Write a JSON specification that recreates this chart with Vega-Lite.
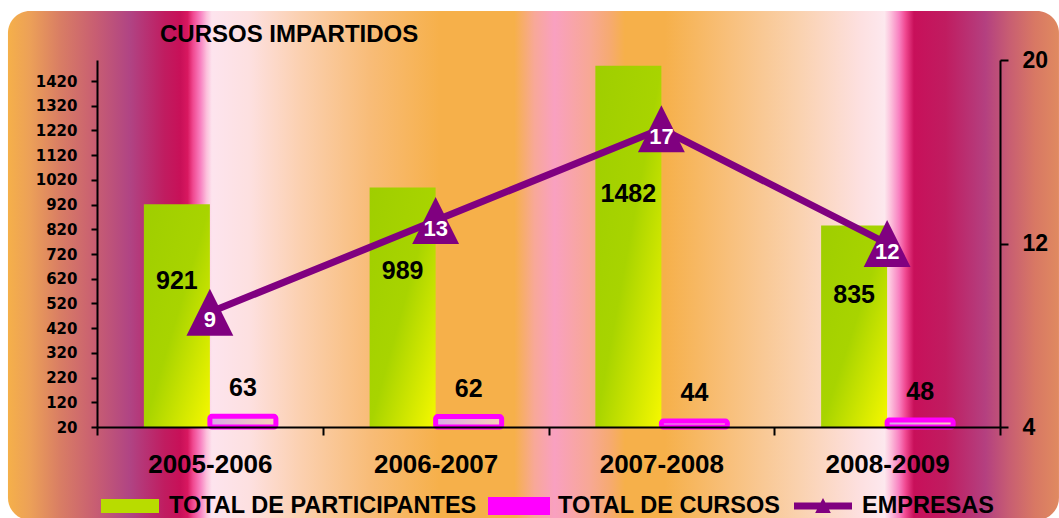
{
  "$schema": "https://vega.github.io/schema/vega-lite/v6.json",
  "width": 903,
  "height": 367,
  "autosize": {"type": "none"},
  "padding": {"left": 97, "top": 60, "right": 59, "bottom": 91},
  "background": "white",
  "title": {"text": "CURSOS IMPARTIDOS", "anchor": "start", "frame": "group", "dx": 63, "offset": -36, "font": "Liberation Sans", "fontSize": 24, "fontWeight": "bold", "color": "black"},
  "datasets": {
    "barras": [
      {"periodo": "2005-2006", "serie": "TOTAL DE PARTICIPANTES", "valor": 921},
      {"periodo": "2005-2006", "serie": "TOTAL DE CURSOS", "valor": 63},
      {"periodo": "2006-2007", "serie": "TOTAL DE PARTICIPANTES", "valor": 989},
      {"periodo": "2006-2007", "serie": "TOTAL DE CURSOS", "valor": 62},
      {"periodo": "2007-2008", "serie": "TOTAL DE PARTICIPANTES", "valor": 1482},
      {"periodo": "2007-2008", "serie": "TOTAL DE CURSOS", "valor": 44},
      {"periodo": "2008-2009", "serie": "TOTAL DE PARTICIPANTES", "valor": 835},
      {"periodo": "2008-2009", "serie": "TOTAL DE CURSOS", "valor": 48}
    ],
    "empresas": [
      {"periodo": "2005-2006", "empresas": 9},
      {"periodo": "2006-2007", "empresas": 13},
      {"periodo": "2007-2008", "empresas": 17},
      {"periodo": "2008-2009", "empresas": 12}
    ]
  },
  "layer": [
    {
      "data": {"values": [{"fondo": "fondo"}]},
      "mark": {
        "type": "rect",
        "cornerRadius": 22,
        "fill": {
          "gradient": "linear", "x1": 0, "y1": 0, "x2": 1, "y2": 0,
          "stops": [
            {"offset": 0.0, "color": "#f5b04a"},
            {"offset": 0.021, "color": "#eca058"},
            {"offset": 0.049, "color": "#d97e64"},
            {"offset": 0.083, "color": "#c85e72"},
            {"offset": 0.116, "color": "#b04484"},
            {"offset": 0.149, "color": "#c01c60"},
            {"offset": 0.164, "color": "#c81058"},
            {"offset": 0.171, "color": "#d81860"},
            {"offset": 0.176, "color": "#f04890"},
            {"offset": 0.183, "color": "#f880c0"},
            {"offset": 0.189, "color": "#fcc0dc"},
            {"offset": 0.194, "color": "#fde4ee"},
            {"offset": 0.230, "color": "#fde0e0"},
            {"offset": 0.278, "color": "#fbd0b0"},
            {"offset": 0.344, "color": "#f8bc78"},
            {"offset": 0.411, "color": "#f6b04a"},
            {"offset": 0.482, "color": "#f6b04a"},
            {"offset": 0.501, "color": "#f8a898"},
            {"offset": 0.520, "color": "#f9a0c0"},
            {"offset": 0.554, "color": "#f7a894"},
            {"offset": 0.573, "color": "#f6aa70"},
            {"offset": 0.587, "color": "#f6b04a"},
            {"offset": 0.625, "color": "#f6b04a"},
            {"offset": 0.687, "color": "#f8c07c"},
            {"offset": 0.754, "color": "#fad2b0"},
            {"offset": 0.811, "color": "#fde0e0"},
            {"offset": 0.834, "color": "#fde8ee"},
            {"offset": 0.840, "color": "#fcc0dc"},
            {"offset": 0.848, "color": "#f880c0"},
            {"offset": 0.854, "color": "#f04890"},
            {"offset": 0.862, "color": "#c8105a"},
            {"offset": 0.892, "color": "#c01c60"},
            {"offset": 0.930, "color": "#b44080"},
            {"offset": 0.953, "color": "#c85e72"},
            {"offset": 0.977, "color": "#d87864"},
            {"offset": 1.0, "color": "#e08a60"}
          ]
        }
      },
      "encoding": {
        "x": {"datum": -0.0986, "type": "quantitative", "scale": {"domain": [0, 1], "nice": false, "zero": false}, "axis": null},
        "x2": {"datum": 1.0653},
        "y": {"datum": -0.2534, "type": "quantitative", "scale": {"domain": [0, 1], "nice": false, "zero": false}, "axis": null},
        "y2": {"datum": 1.1335}
      }
    },
    {
      "data": {"name": "barras"},
      "encoding": {
        "x": {
          "field": "periodo", "type": "nominal",
          "scale": {"type": "band", "paddingInner": 0, "paddingOuter": 0},
          "axis": {
            "zindex": 1, "title": null, "labelAngle": 0, "labelFont": "Liberation Sans", "labelFontSize": 26, "labelFontWeight": "bold", "labelColor": "black",
            "labelPadding": 16, "tickBand": "extent", "tickSize": 8, "tickColor": "black", "tickWidth": 2,
            "domainColor": "black", "domainWidth": 2, "grid": false
          }
        },
        "xOffset": {"field": "serie", "type": "nominal", "scale": {"domain": ["TOTAL DE PARTICIPANTES", "TOTAL DE CURSOS"], "paddingInner": 0, "paddingOuter": 0.71}},
        "y": {
          "field": "valor", "type": "quantitative",
          "scale": {"domain": [20, 1505], "nice": false, "zero": false},
          "axis": {
            "zindex": 1, "orient": "left", "title": null, "format": "d", "values": [20, 120, 220, 320, 420, 520, 620, 720, 820, 920, 1020, 1120, 1220, 1320, 1420],
            "labelFont": "DejaVu Sans", "labelFontSize": 15, "labelFontWeight": "bold", "labelColor": "black", "labelPadding": 14,
            "tickSize": 6, "tickColor": "black", "tickWidth": 2, "domainColor": "black", "domainWidth": 2, "grid": false
          }
        }
      },
      "layer": [
        {
          "transform": [{"filter": "datum.serie === 'TOTAL DE PARTICIPANTES'"}],
          "mark": {
            "type": "bar",
            "fill": {
              "gradient": "linear", "x1": 0, "y1": 0, "x2": 1, "y2": 1,
              "stops": [
                {"offset": 0, "color": "#9fce00"},
                {"offset": 0.5, "color": "#a8d400"},
                {"offset": 1, "color": "#f6f800"}
              ]
            }
          },
          "encoding": {
            "y2": {"datum": 20},
            "color": {
              "field": "serie", "type": "nominal",
              "scale": {"domain": ["TOTAL DE PARTICIPANTES", "TOTAL DE CURSOS", "EMPRESAS"], "range": ["#b8dc00", "#ff00ff", "#800080"]},
              "legend": {
                "orient": "none", "legendX": 2, "legendY": 415, "direction": "horizontal", "title": null,
                "padding": 0, "labelFont": "Liberation Sans", "labelFontSize": 23.5, "labelFontWeight": "bold", "labelColor": "black",
                "labelLimit": 400, "labelOffset": 8, "columnPadding": 5, "symbolSize": 3364,
                "encode": {
                  "symbols": {
                    "update": {
                      "shape": {"signal": "datum.value === 'EMPRESAS' ? 'M-1,-0.12H1V0.12H-1Z M-0.27,0.24L0,-0.28L0.27,0.24Z' : 'M-1,-0.24H1V0.24H-1Z'"},
                      "fill": {"signal": "datum.value === 'TOTAL DE PARTICIPANTES' ? {gradient: 'linear', x1: 0, y1: 0, x2: 1, y2: 0, stops: [{offset: 0, color: '#9fce00'}, {offset: 1, color: '#f6f800'}]} : datum.value === 'TOTAL DE CURSOS' ? '#dcb0e0' : '#800080'"},
                      "stroke": {"signal": "datum.value === 'TOTAL DE CURSOS' ? '#ff00ff' : 'transparent'"},
                      "strokeWidth": {"value": 4},
                      "opacity": {"value": 1},
                      "fillOpacity": {"value": 1}
                    }
                  }
                }
              }
            }
          }
        },
        {
          "transform": [{"filter": "datum.serie === 'TOTAL DE CURSOS'"}],
          "mark": {
            "type": "bar", "stroke": "#ff00ff", "strokeWidth": 5, "cornerRadius": 2,
            "fill": {
              "gradient": "linear", "x1": 0, "y1": 0, "x2": 1, "y2": 0,
              "stops": [
                {"offset": 0, "color": "#d8a8e8"},
                {"offset": 1, "color": "#f8d0b8"}
              ]
            }
          },
          "encoding": {"y2": {"datum": 20}}
        },
        {
          "transform": [{"filter": "datum.serie === 'TOTAL DE CURSOS'"}],
          "mark": {"type": "text", "font": "Liberation Sans", "fontSize": 25, "fontWeight": "bold", "color": "black", "baseline": "alphabetic", "dy": -20},
          "encoding": {"text": {"field": "valor", "type": "quantitative"}}
        }
      ]
    },
    {
      "data": {"name": "barras"},
      "transform": [{"filter": "datum.serie === 'TOTAL DE PARTICIPANTES'"}],
      "mark": {"type": "text", "font": "Liberation Sans", "fontSize": 25, "fontWeight": "bold", "color": "black", "baseline": "middle"},
      "encoding": {
        "x": {"field": "periodo", "type": "nominal", "scale": {"type": "band", "paddingInner": 0, "paddingOuter": 0}, "axis": null},
        "xOffset": {"field": "serie", "type": "nominal", "scale": {"type": "band", "domain": ["TOTAL DE PARTICIPANTES", "TOTAL DE CURSOS"], "paddingInner": 0, "paddingOuter": 0.71}},
        "y": {"field": "valor", "type": "quantitative", "scale": {"domain": [-17, 2348], "nice": false, "zero": false}, "axis": null},
        "text": {"field": "valor", "type": "quantitative"}
      }
    },
    {
      "data": {"name": "empresas"},
      "encoding": {
        "x": {"field": "periodo", "type": "nominal", "scale": {"type": "band", "paddingInner": 0, "paddingOuter": 0}, "axis": null},
        "y": {
          "field": "empresas", "type": "quantitative",
          "scale": {"domain": [4, 20], "nice": false, "zero": false},
          "axis": {
            "zindex": 1, "orient": "right", "title": null, "values": [4, 12, 20],
            "labelFont": "Liberation Sans", "labelFontSize": 23, "labelFontWeight": "bold", "labelColor": "black", "labelPadding": 14,
            "tickSize": 8, "tickColor": "black", "tickWidth": 2, "domainColor": "black", "domainWidth": 2, "grid": false
          }
        }
      },
      "layer": [
        {"mark": {"type": "line", "color": "#800080", "strokeWidth": 7}},
        {"mark": {"type": "point", "shape": "M0,-1L1,1L-1,1Z", "size": 2200, "filled": true, "color": "#800080", "opacity": 1}},
        {
          "mark": {"type": "text", "font": "Liberation Sans", "fontSize": 22, "fontWeight": "bold", "color": "white", "baseline": "middle", "dy": 8},
          "encoding": {"text": {"field": "empresas", "type": "quantitative"}}
        }
      ]
    }
  ],
  "resolve": {"scale": {"x": "independent", "y": "independent", "xOffset": "independent"}},
  "config": {"view": {"stroke": null}}
}
